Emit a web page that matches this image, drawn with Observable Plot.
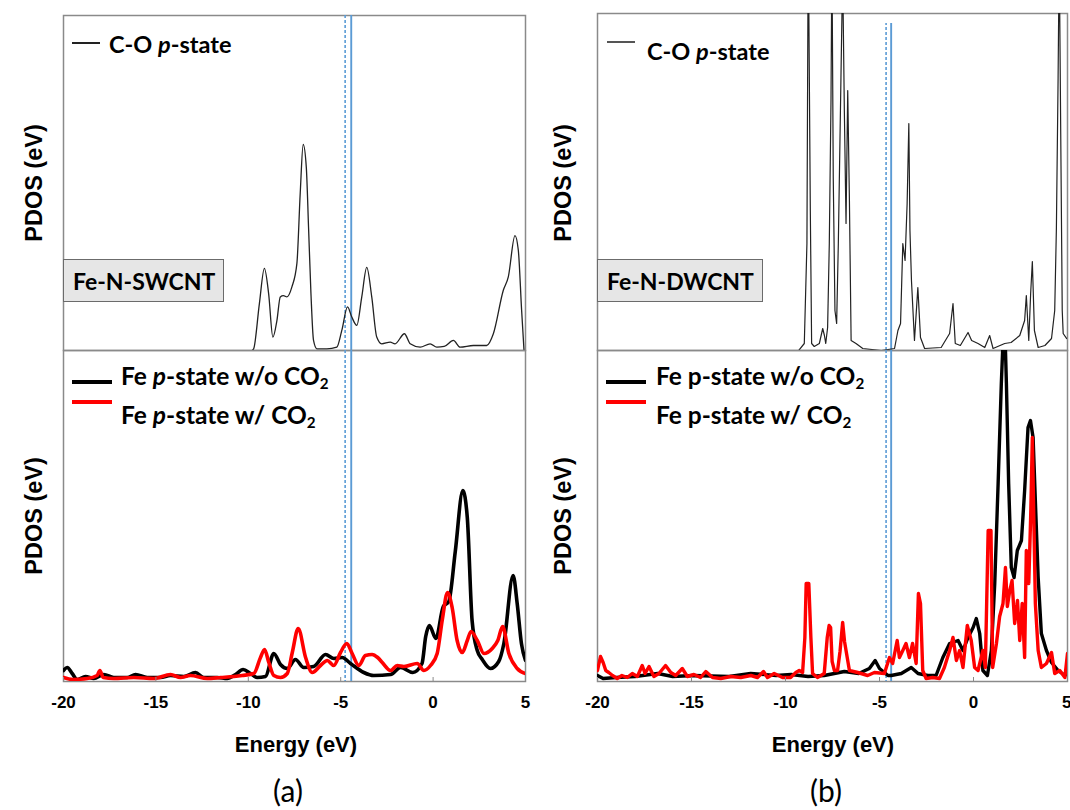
<!DOCTYPE html>
<html>
<head>
<meta charset="utf-8">
<script src="https://cdn.jsdelivr.net/npm/d3@7"></script>
<script src="https://cdn.jsdelivr.net/npm/@observablehq/plot@0.6"></script>
<style>
  body { margin: 0; background: #fff; }
  #fig { position: relative; width: 1070px; height: 810px; overflow: hidden; background: #fff; }
  .p { position: absolute; }
  .t { position: absolute; white-space: nowrap; transform: translateY(-50%); line-height: 1; color: #000; }
  .leg { font-family: Lato, "Open Sans", sans-serif; font-weight: bold; font-size: 23.5px; }
  .leg2 { font-family: Lato, "Open Sans", sans-serif; font-weight: bold; font-size: 24.5px; }
  .leg sub, .leg2 sub { font-size: 0.62em; vertical-align: -0.3em; line-height: 0; }
  .ax { font-family: "Liberation Sans", Arial, sans-serif; font-weight: bold; font-size: 22px; }
  .ay { font-family: "Liberation Sans", Arial, sans-serif; font-weight: bold; font-size: 23.5px; }
  .ylab { position: absolute; white-space: nowrap; transform: translate(-50%, -50%) rotate(-90deg); line-height: 1; }
  .xlab { position: absolute; white-space: nowrap; transform: translate(-50%, -50%); line-height: 1; }
  .cap { font-family: Lato, "Open Sans", sans-serif; font-size: 30px; }
  .swatch { position: absolute; }
  .box { position: absolute; background: #e6e6e6; border: 1.5px solid #6b6b6b; box-sizing: border-box;
         font-family: Lato, "Open Sans", sans-serif; font-weight: bold; font-size: 23px; display: flex; align-items: center; padding-left: 9px; }
</style>
</head>
<body>
<div id="fig"></div>
<script>
// ---------------- data ----------------
const xTicks = [-20, -15, -10, -5, 0, 5];
const fermiA = [-4.76, -4.43];   // [dashed, solid]
const fermiB = [-4.65, -4.38];

// (a) Fe-N-SWCNT, C-O p-state (arbitrary units, 0..100)
const aTopCO = [
  [-9.8,0],[-9.71,0.5],[-9.4,14],[-9.13,24.5],[-8.9,17],[-8.67,4],[-8.45,9],[-8.27,16],[-8.1,16.4],
  [-7.91,16],[-7.64,19],[-7.37,26],[-7.19,47],[-7.03,61.5],[-6.86,54.6],[-6.74,36.8],[-6.61,17],
  [-6.47,3],[-6.29,0.5],[-5.75,0.5],[-5.21,1],[-4.94,6],[-4.63,13],[-4.4,10],[-4.13,7.5],[-3.86,16],
  [-3.59,24.8],[-3.32,16],[-3.05,4],[-2.78,2],[-2.32,2.5],[-2.06,2],[-1.55,5],[-1.24,2],[-0.7,1],
  [-0.16,2],[0.2,1],[0.6,1.2],[1.1,3],[1.46,1],[2.18,1.5],[2.9,1.5],[3.26,5],[3.8,18],[4.07,22],
  [4.43,34.3],[4.61,30],[4.79,12],[4.92,0]
];
// (a) Fe p-state w/o CO2
const aBotNo = [
  [-20,11],[-19.8,14],[-19.53,8],[-19.26,2],[-18.81,5],[-18.36,3],[-17.82,7],[-17.28,4],[-16.55,4],
  [-16.1,7],[-15.47,4],[-14.75,4],[-14.21,6],[-13.49,5],[-12.86,9],[-12.41,4],[-11.68,4],[-11.14,3],
  [-10.69,7],[-10.28,12],[-9.88,8],[-9.52,4],[-9.07,5],[-8.62,28],[-8.26,17],[-7.89,13],[-7.45,22],
  [-7.0,14],[-6.46,15],[-5.82,27],[-5.37,23],[-4.92,24],[-4.47,18],[-3.75,9],[-3.21,6],[-2.3,7],
  [-1.76,14],[-1.1,9],[-0.6,18],[-0.4,45],[-0.2,56],[0.15,43],[0.55,75],[0.85,80],[1.2,130],
  [1.61,191],[1.85,164],[2.11,61],[2.39,31],[2.66,22],[3.1,13],[3.55,20],[3.83,38],[4.33,106],
  [4.55,78],[4.78,38],[5.0,21]
];
// (a) Fe p-state w/ CO2
const aBotCO2 = [
  [-20,4],[-19.5,2],[-18.72,3],[-18.18,6],[-18.03,11],[-17.85,4],[-17.28,3],[-16.2,4],[-15.11,3],
  [-14.21,7],[-13.67,4],[-13.13,6],[-12.22,3],[-11.5,4],[-10.78,5],[-10.33,6],[-9.7,8],[-9.34,24],
  [-9.12,32],[-8.89,19],[-8.62,6],[-8.26,4],[-7.89,8],[-7.62,29],[-7.3,53],[-6.9,24],[-6.54,9],
  [-6.09,16],[-5.73,21],[-5.37,16],[-5.01,29],[-4.67,38],[-4.38,28],[-4.02,16],[-3.66,26],[-3.3,27],
  [-3.0,24],[-2.75,19],[-2.3,11],[-1.94,16],[-1.58,15],[-0.86,18],[-0.5,11],[-0.14,16],[0.22,28],
  [0.5,62],[0.78,89],[1.03,74],[1.3,41],[1.58,29],[1.85,41],[2.05,50],[2.39,41],[2.75,28],[3.2,33],
  [3.5,41],[3.76,55],[4.1,28],[4.55,13],[5,8]
];
// (b) Fe-N-DWCNT, C-O p-state
const bTopCO = [
  [-9.3,0],[-9.0,7],[-8.86,107],[-8.79,420],[-8.68,140],[-8.61,7],[-8.47,4],[-8.2,7],[-8.02,22],
  [-7.93,15],[-7.86,7],[-7.76,23],[-7.67,107],[-7.58,250],[-7.53,400],[-7.46,173],[-7.37,40],
  [-7.28,27],[-7.19,107],[-7.05,273],[-6.96,380],[-6.87,240],[-6.78,127],[-6.69,260],[-6.6,150],
  [-6.51,10],[-6.25,7],[-5.89,2],[-4.9,0],[-4.2,2],[-4.02,20],[-3.88,27],[-3.76,107],[-3.64,90],
  [-3.53,147],[-3.44,227],[-3.38,120],[-3.3,70],[-3.14,10],[-2.96,63],[-2.82,13],[-2.6,2],[-1.72,3],
  [-1.27,17],[-1.09,47],[-0.97,7],[-0.7,5],[-0.29,18],[-0.1,10],[0.24,7],[0.6,3],[0.86,15],[1.04,2],
  [1.66,7],[2.0,8],[2.46,15],[2.72,30],[2.81,55],[2.94,10],[3.04,57],[3.13,89],[3.24,20],[3.44,3],
  [3.8,5],[4.15,12],[4.32,40],[4.41,123],[4.5,273],[4.56,400],[4.64,217],[4.72,40],[4.77,17],[4.95,12]
];
// (b) Fe p-state w/o CO2
const bBotNo = [
  [-20,6],[-19.7,3],[-19,4],[-18,5],[-16.8,8],[-16,5],[-14.9,6],[-13,5],[-11.85,8],[-10.5,6],[-9.7,7],
  [-8.8,5],[-7.94,6],[-6.87,10],[-6.1,8],[-5.54,13],[-5.23,21],[-5.0,13],[-4.55,6],[-4.38,6],[-3.84,8],
  [-3.31,14],[-2.95,8],[-2.43,6],[-1.99,6],[-1.63,24],[-1.27,38],[-0.82,41],[-0.56,31],[-0.29,44],
  [-0.02,54],[0.15,63],[0.33,48],[0.5,11],[0.74,6],[0.95,31],[1.13,98],[1.31,198],[1.48,298],[1.58,345],
  [1.68,345],[1.75,298],[1.87,198],[2.01,114],[2.16,104],[2.33,131],[2.55,141],[2.72,191],[2.9,254],
  [3.03,261],[3.17,244],[3.29,181],[3.44,104],[3.61,48],[3.88,31],[4.15,19],[4.5,11],[4.86,6],[5.0,8]
];
// (b) Fe p-state w/ CO2
const bBotCO2 = [
  [-20,11],[-19.84,25],[-19.7,19],[-19.56,11],[-19.4,9],[-19.2,6],[-18.95,3],[-18.7,6],[-18.42,4],
  [-18.15,8],[-17.88,5],[-17.62,16],[-17.47,8],[-17.26,15],[-17.0,5],[-16.73,8],[-16.38,16],[-16.1,9],
  [-15.84,6],[-15.49,13],[-15.22,5],[-14.87,7],[-14.52,4],[-14.24,10],[-13.88,4],[-13.44,3],[-12.91,5],
  [-12.38,4],[-11.84,6],[-11.49,4],[-11.17,10],[-10.96,4],[-10.6,8],[-10.16,4],[-9.73,4],[-9.45,9],
  [-9.27,11],[-9.09,9],[-8.97,44],[-8.9,98],[-8.76,98],[-8.65,44],[-8.56,8],[-8.3,4],[-7.94,8],
  [-7.78,44],[-7.68,56],[-7.6,54],[-7.52,20],[-7.4,11],[-7.23,11],[-7.1,30],[-6.96,59],[-6.86,40],
  [-6.78,31],[-6.6,11],[-6.16,9],[-5.63,6],[-5.27,9],[-4.74,8],[-4.47,24],[-4.3,18],[-4.06,41],
  [-3.94,24],[-3.76,31],[-3.59,38],[-3.41,24],[-3.24,38],[-3.05,18],[-2.93,88],[-2.82,78],[-2.7,11],
  [-2.52,3],[-2.17,4],[-1.81,3],[-1.55,14],[-1.27,31],[-1.09,44],[-0.91,21],[-0.74,31],[-0.56,14],
  [-0.33,56],[-0.12,41],[0.06,14],[0.24,11],[0.5,31],[0.63,14],[0.78,151],[0.93,151],[1.02,14],
  [1.22,38],[1.39,65],[1.57,78],[1.7,114],[1.8,75],[1.93,91],[2.05,101],[2.19,58],[2.34,81],[2.46,41],
  [2.59,78],[2.72,24],[2.81,131],[2.94,98],[3.04,164],[3.13,244],[3.22,151],[3.29,78],[3.44,31],
  [3.61,14],[3.88,18],[4.15,29],[4.32,8],[4.59,11],[4.86,4],[5.0,28]
];

// ---------------- drawing ----------------
const fig = document.getElementById("fig");
const BLUE = "#5b9bd5";
const tickFont = {tickFormat: d => String(d), tickSize: -4, tickPadding: 18, stroke: "#8a8a8a", fill: "#000",
  fontSize: 17, fontWeight: "bold", fontFamily: "'Liberation Sans', Arial, sans-serif", label: null};

function makePlot(o) {
  const marks = [Plot.frame({stroke: "#8a8a8a", strokeWidth: 1.5})];
  const ruleOpts = o.ruleTop != null ? {y1: 0, y2: o.ruleTop} : {};
  marks.push(Plot.ruleX([o.fermi[0]], {...ruleOpts, stroke: BLUE, strokeWidth: 1.6, strokeDasharray: "3,2"}));
  marks.push(Plot.ruleX([o.fermi[1]], {...ruleOpts, stroke: BLUE, strokeWidth: 1.9}));
  for (const s of o.series) {
    marks.push(Plot.line(s.data, {x: d => d[0], y: d => d[1], stroke: s.color, strokeWidth: s.w,
      curve: s.curve, clip: true, strokeLinejoin: "round"}));
  }
  if (o.axis) {
    if (o.lastEnd) {
      marks.push(Plot.axisX({...tickFont, ticks: xTicks.slice(0, -1)}));
      marks.push(Plot.axisX({...tickFont, ticks: xTicks.slice(-1), textAnchor: "end", dx: 4}));
    } else {
      marks.push(Plot.axisX({...tickFont, ticks: xTicks}));
    }
  }
  const svg = Plot.plot({
    width: o.width, height: o.height,
    marginLeft: o.ml, marginRight: o.mr, marginTop: o.mt, marginBottom: o.mb,
    x: o.axis ? {domain: [-20, 5]} : {domain: [-20, 5], axis: null},
    y: {domain: [0, o.yMax], axis: null},
    style: {background: "transparent", overflow: "visible", maxWidth: "none"},
    marks
  });
  const d = document.createElement("div");
  d.className = "p";
  d.style.left = o.left + "px";
  d.style.top = o.top + "px";
  d.appendChild(svg);
  fig.appendChild(d);
}

makePlot({left: 0, top: 0, width: 535, height: 350, ml: 63, mr: 10, mt: 15, mb: 0, yMax: 100,
  fermi: fermiA, series: [{data: aTopCO, color: "#222", w: 1.3, curve: "monotone-x"}]});
makePlot({left: 0, top: 350, width: 535, height: 371, ml: 63, mr: 10, mt: 0, mb: 40, yMax: 331, axis: true,
  fermi: fermiA, series: [
    {data: aBotNo, color: "#000", w: 3.6, curve: "monotone-x"},
    {data: aBotCO2, color: "#ff0000", w: 3.6, curve: "monotone-x"}]});
makePlot({left: 535, top: 0, width: 535, height: 350, ml: 62, mr: 3, mt: 13, mb: 0, yMax: 337, ruleTop: 327,
  fermi: fermiB, series: [{data: bTopCO, color: "#222", w: 1.2, curve: "linear"}]});
makePlot({left: 535, top: 350, width: 535, height: 371, ml: 62, mr: 3, mt: 0, mb: 40, yMax: 331, axis: true,
  lastEnd: true, fermi: fermiB, series: [
    {data: bBotNo, color: "#000", w: 3.4, curve: "linear"},
    {data: bBotCO2, color: "#ff0000", w: 3.4, curve: "linear"}]});

// ---------------- text & legends ----------------
function addText(html, x, y, cls) {
  const e = document.createElement("div");
  e.className = cls;
  e.style.left = x + "px";
  e.style.top = y + "px";
  e.innerHTML = html;
  fig.appendChild(e);
}
function addSwatch(x1, x2, y, color, w) {
  const e = document.createElement("div");
  e.className = "swatch";
  e.style.left = x1 + "px";
  e.style.top = (y - w / 2) + "px";
  e.style.width = (x2 - x1) + "px";
  e.style.height = w + "px";
  e.style.background = color;
  fig.appendChild(e);
}
function addBox(text, x, y, w, h) {
  const e = document.createElement("div");
  e.className = "box";
  e.style.left = x + "px"; e.style.top = y + "px";
  e.style.width = w + "px"; e.style.height = h + "px";
  e.textContent = text;
  fig.appendChild(e);
}

// y-axis titles
addText("PDOS (eV)", 35, 183, "ylab ay");
addText("PDOS (eV)", 35, 516, "ylab ay");
addText("PDOS (eV)", 564, 183, "ylab ay");
addText("PDOS (eV)", 564, 516, "ylab ay");
// x-axis titles
addText("Energy (eV)", 296, 745, "xlab ax");
addText("Energy (eV)", 833, 745, "xlab ax");
// panel captions
addText("(a)", 288, 790, "xlab cap");
addText("(b)", 826, 790, "xlab cap");

// legends (a)
addSwatch(72, 100, 43, "#222", 1.3);
addText("C-O <i>p</i>-state", 109, 45, "t leg");
addSwatch(72, 112, 382, "#000", 3.6);
addSwatch(72, 112, 402, "#ff0000", 3.6);
addText("Fe <i>p</i>-state w/o CO<sub>2</sub>", 121, 376, "t leg2");
addText("Fe <i>p</i>-state w/ CO<sub>2</sub>", 121, 415, "t leg2");
addBox("Fe-N-SWCNT", 63, 259, 161, 43);

// legends (b)
addSwatch(607, 635, 42, "#555", 1.2);
addText("C-O <i>p</i>-state", 647, 52, "t leg");
addSwatch(606, 646, 382, "#000", 3.6);
addSwatch(606, 646, 402, "#ff0000", 3.6);
addText("Fe p-state w/o CO<sub>2</sub>", 656, 376, "t leg2");
addText("Fe p-state w/ CO<sub>2</sub>", 656, 415, "t leg2");
addBox("Fe-N-DWCNT", 597, 259, 166, 43);
</script>
</body>
</html>
